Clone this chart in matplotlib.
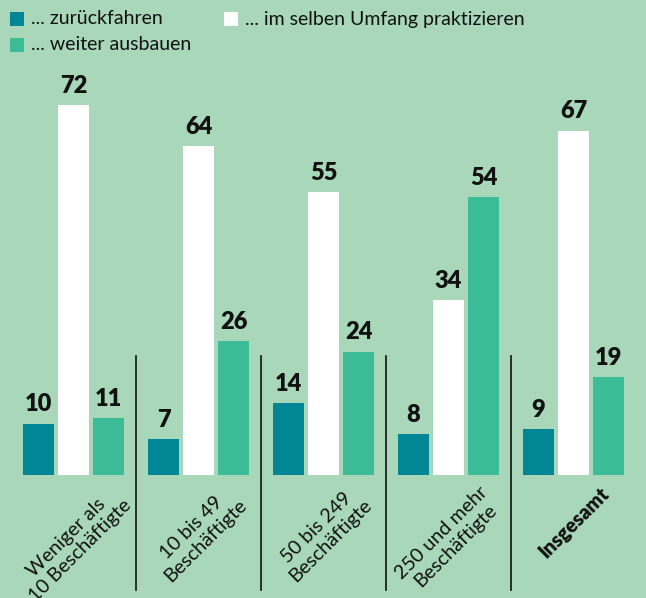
import matplotlib
matplotlib.use("Agg")
import matplotlib.pyplot as plt
from matplotlib.patches import Rectangle
import numpy as np

plt.rcParams['font.family'] = ['Lato', 'DejaVu Sans']

# Daten
kategorien = ["Weniger als\n10 Beschäftigte", "10 bis 49\nBeschäftigte",
              "50 bis 249\nBeschäftigte", "250 und mehr\nBeschäftigte", "Insgesamt"]
zurueckfahren = [10, 7, 14, 8, 9]
selber_umfang = [72, 64, 55, 34, 67]
ausbauen = [11, 26, 24, 54, 19]
serien_namen = ["... zurückfahren", "... im selben Umfang praktizieren", "... weiter ausbauen"]

bg = "#a8d8b9"
farben = ["#008694", "#ffffff", "#3dbd97"]

fig = plt.figure(figsize=(6.46, 5.98), dpi=100, facecolor=bg)
ax = fig.add_axes([0, 123 / 598, 1, 475 / 598])
ax.set_facecolor(bg)

px = 5.139  # Pixel pro Prozentpunkt
x = np.arange(len(kategorien))
w = 0.248
off = 0.28

for i, (werte, farbe) in enumerate(zip([zurueckfahren, selber_umfang, ausbauen], farben)):
    pos = x + (i - 1) * off
    ax.bar(pos, werte, width=w, color=farbe, linewidth=0)
    for p, v in zip(pos, werte):
        ax.text(p, v + 1.6, str(v), ha='center', va='bottom', fontsize=17,
                fontweight='heavy', color='#111111')

ax.set_xlim(-73.5 / 125, (646 - 73.5) / 125)
ax.set_ylim(0, 475 / px)
ax.axis('off')

# Trennlinien
for s in x[:-1] + 0.5:
    ax.plot([s, s], [(475 - 356) / px, (475 - 590) / px], color='#111111',
            lw=1.2, clip_on=False)

# Kategorien
for xi, k in zip(x, kategorien):
    fett = 'heavy' if k == "Insgesamt" else 'normal'
    ax.text(xi, -1.6, k, rotation=45, ha='center', va='top', fontsize=14.2,
            fontweight=fett, color='#111111', multialignment='center',
            linespacing=1.15, clip_on=False)

# Legende
leg = [(10, 12, farben[0], serien_namen[0]),
       (224, 12, farben[1], serien_namen[1]),
       (10, 38, farben[2], serien_namen[2])]
for lx, ly, farbe, name in leg:
    fig.patches.append(Rectangle((lx / 646, 1 - (ly + 14) / 598), 14 / 646, 14 / 598,
                                 transform=fig.transFigure, color=farbe, lw=0))
    fig.text((lx + 21) / 646, 1 - (ly + 7) / 598, name, ha='left', va='center',
             fontsize=14, color='#111111')

fig.savefig("out.png", dpi=100, facecolor=bg)
